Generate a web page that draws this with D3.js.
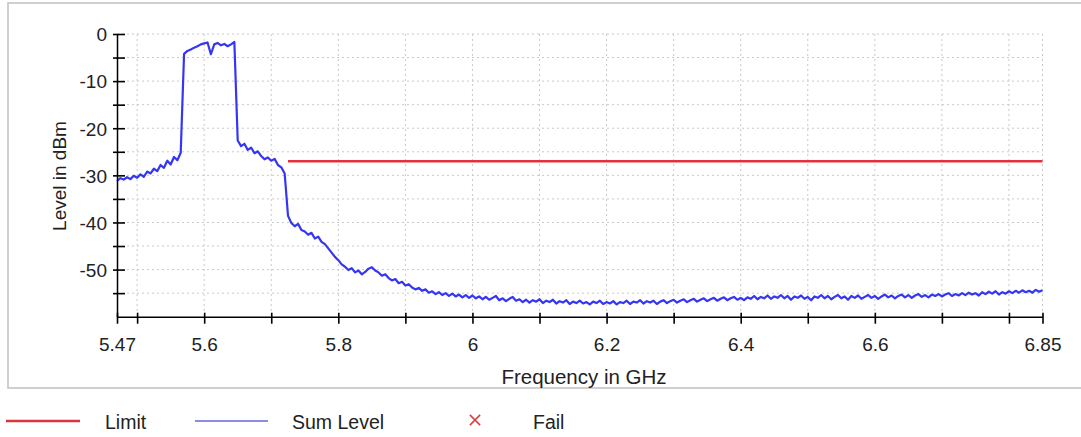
<!DOCTYPE html>
<html>
<head>
<meta charset="utf-8">
<script src="https://cdn.jsdelivr.net/npm/d3@7/dist/d3.min.js"></script>
<style>
  html, body { margin: 0; padding: 0; background: #fff; }
  svg { display: block; font-family: "Liberation Sans", Arial, sans-serif; }
</style>
</head>
<body>
<svg id="chart" width="1081" height="437"></svg>
<script>
// ---------- data ----------
const sweepStart = 5.47;     // GHz
const sweepStep = 0.005;     // GHz per trace point
// Sum Level trace in dBm (one value per sweep point)
const sumLevel = [
  // 5.470 - 5.565
  -31.2, -30.6, -30.9, -30.4, -30.8, -30.1, -30.5, -29.8, -30.3, -29.2,
  -29.6, -28.6, -29.1, -27.8, -28.4, -26.9, -27.7, -26.1, -26.8, -25.2,
  // 5.570 - 5.645 (channel)
  -4.2, -3.6, -3.3, -2.9, -2.6, -2.2, -2.0, -1.8, -4.3, -2.2,
  -1.9, -2.4, -2.1, -2.6, -2.2, -1.7,
  // 5.650 - 5.720
  -22.6, -23.8, -23.3, -24.6, -24.1, -25.3, -24.9, -25.9, -26.6, -26.2,
  -26.9, -26.5, -27.8, -28.3, -29.6,
  // 5.725 - 6.850
  -38.6, -40.1, -40.8, -40.3, -41.6, -41.9, -42.6, -42.2, -43.4, -43.0,
  -44.1, -44.6, -45.5, -46.4, -47.3, -48.0, -48.9, -49.4, -50.1, -49.7,
  -50.6, -50.2, -51.0, -50.5, -49.8, -49.5, -50.2, -50.6, -51.3, -51.0,
  -51.8, -52.3, -52.0, -52.9, -52.6, -53.4, -53.1, -53.8, -54.2, -53.9,
  -54.5, -54.2, -54.9, -54.6, -55.2, -54.8, -55.4, -55.0, -55.6, -55.1,
  -55.7, -55.3, -55.9, -55.4, -56.0, -55.5, -56.1, -55.7, -56.3, -55.8,
  -56.4, -56.0, -55.6, -56.5, -56.1, -56.7, -56.2, -55.8, -56.6, -56.3,
  -56.9, -56.4, -57.0, -56.5, -56.8, -56.3, -57.1, -56.6, -56.9, -56.4,
  -57.2, -56.7, -57.0, -56.5, -57.3, -56.8, -57.1, -56.6, -57.2, -56.9,
  -57.4, -56.8, -57.1, -56.6, -57.3, -56.9, -57.2, -56.7, -57.4, -56.9,
  -57.1, -56.6, -57.3, -56.8, -57.0, -56.5, -57.2, -56.7, -57.0, -56.6,
  -57.3, -56.8, -56.5, -57.1, -56.7, -56.4, -57.0, -56.6, -56.3, -56.9,
  -56.5, -56.2, -56.8, -56.4, -56.1, -56.7, -56.3, -56.0, -56.6, -56.2,
  -55.9, -56.5, -56.1, -55.8, -56.4, -56.0, -56.5, -55.9, -56.2, -55.6,
  -56.3, -55.8, -56.1, -55.5, -56.2, -55.7, -56.0, -55.4, -56.1, -55.6,
  -56.4, -55.7, -56.0, -55.5, -56.2, -55.8, -56.5, -55.7, -56.0, -55.4,
  -56.1, -55.6, -56.3, -55.8, -55.4, -56.1, -55.7, -56.4, -55.6, -56.0,
  -55.5, -56.2, -55.8, -55.4, -56.0, -55.6, -56.2, -55.7, -55.3, -55.9,
  -55.5, -56.1, -55.6, -55.3, -55.9, -55.4, -56.0, -55.5, -55.2, -55.8,
  -55.4, -55.9, -55.3, -55.6, -55.2, -55.7, -55.3, -55.0, -55.6, -55.2,
  -55.5, -55.0, -55.4, -54.9, -55.3, -55.0, -55.5, -54.8, -55.2, -54.7,
  -55.1, -54.6, -55.3, -54.8, -55.1, -54.6, -55.0, -54.5, -54.9, -54.4,
  -54.8, -54.5, -54.9, -54.3, -54.7, -54.4
];
const limitFreq = [5.725, 6.85];   // GHz
const limitLevel = [-27, -27];     // dBm

const xDomain = [5.47, 6.85];
const yDomain = [-60, 0];
const xTicks = [5.47, 5.5, 5.6, 5.7, 5.8, 5.9, 6.0, 6.1, 6.2, 6.3, 6.4, 6.5, 6.6, 6.7, 6.8, 6.85];
const xTickLabels = [5.47, 5.6, 5.8, 6.0, 6.2, 6.4, 6.6, 6.85];
const yTicks = [-60, -55, -50, -45, -40, -35, -30, -25, -20, -15, -10, -5, 0];
const yTickLabels = [-50, -40, -30, -20, -10, 0];
const legendItems = ["Limit", "Sum Level", "Fail"];

// ---------- layout ----------
(function () {
const svg = d3.select("#chart");
const mL = 117, mR = 1042.5, mT = 34, mB = 316.7;
const x = d3.scaleLinear().domain(xDomain).range([mL, mR]);
const y = d3.scaleLinear().domain(yDomain).range([mB, mT]);

// frame
svg.append("rect").attr("x", 8).attr("y", 3).attr("width", 1090).attr("height", 385)
  .attr("fill", "none").attr("stroke", "#c4c4c4").attr("stroke-width", 1.6);

// grid
const grid = svg.append("g").attr("stroke", "#c9c9c9").attr("stroke-width", 1)
  .attr("stroke-dasharray", "2,3");
grid.selectAll("line.h").data(yTicks.filter(v => v > yDomain[0])).enter().append("line")
  .attr("x1", mL).attr("x2", mR).attr("y1", d => y(d)).attr("y2", d => y(d));
grid.selectAll("line.v").data(xTicks.filter(v => v > xDomain[0])).enter().append("line")
  .attr("y1", mT).attr("y2", mB).attr("x1", d => x(d)).attr("x2", d => x(d));

// trace
const trace = sumLevel.map((v, i) => ({ f: sweepStart + i * sweepStep, v }));
svg.append("path").datum(trace)
  .attr("fill", "none").attr("stroke", "#3535f5").attr("stroke-width", 2.2)
  .attr("stroke-linejoin", "round")
  .attr("d", d3.line().x(d => x(d.f)).y(d => y(d.v)));

// limit
svg.append("path").datum(limitFreq.map((f, i) => ({ f, v: limitLevel[i] })))
  .attr("fill", "none").attr("stroke", "#e2323c").attr("stroke-width", 2.6)
  .attr("d", d3.line().x(d => x(d.f)).y(d => y(d.v)));

// axes
const fmtX = d => xTickLabels.some(t => Math.abs(t - d) < 1e-9) ? String(+d.toFixed(2)) : "";
const fmtY = d => yTickLabels.includes(d) ? String(d) : "";

const xAxis = svg.append("g").attr("transform", `translate(0,${mB})`)
  .call(d3.axisBottom(x).tickValues(xTicks).tickFormat(fmtX).tickSizeInner(7).tickSizeOuter(0));
xAxis.selectAll(".tick line").attr("y1", -4).attr("stroke-width", 1.6);
xAxis.selectAll(".tick text").attr("y", 21);
const yAxis = svg.append("g").attr("transform", `translate(${mL},0)`)
  .call(d3.axisLeft(y).tickValues(yTicks.filter(v => v > yDomain[0])).tickFormat(fmtY).tickSizeInner(4).tickSizeOuter(0));
yAxis.selectAll(".tick line").attr("x1", -4).attr("x2", 8).attr("stroke-width", 1.6);
[xAxis, yAxis].forEach(a => {
  a.select(".domain").attr("stroke", "#000").attr("stroke-width", 1.5);
  a.selectAll("text").attr("font-size", 19).attr("fill", "#222")
    .attr("font-family", "Liberation Sans, Arial, sans-serif");
});
yAxis.selectAll(".tick text").attr("x", -10).attr("dy", "0.36em");

// axis titles
svg.append("text").attr("x", 584).attr("y", 384)
  .attr("text-anchor", "middle").attr("font-size", 20.5).attr("fill", "#222")
  .text("Frequency in GHz");
svg.append("text").attr("transform", "translate(66,176) rotate(-90)")
  .attr("text-anchor", "middle").attr("font-size", 19).attr("fill", "#222")
  .text("Level in dBm");

// legend
const lg = svg.append("g").attr("font-size", 19.5).attr("fill", "#222");
lg.append("line").attr("x1", 6).attr("x2", 80).attr("y1", 421).attr("y2", 421)
  .attr("stroke", "#d9343e").attr("stroke-width", 2.5);
lg.append("text").attr("x", 105).attr("y", 428.5).text(legendItems[0]);
lg.append("line").attr("x1", 195).attr("x2", 268).attr("y1", 421).attr("y2", 421)
  .attr("stroke", "#8c8ce8").attr("stroke-width", 2);
lg.append("text").attr("x", 292).attr("y", 428.5).text(legendItems[1]);
lg.append("path").attr("transform", "translate(475,420)")
  .attr("d", d3.symbol(d3.symbolX, 70)())
  .attr("fill", "none").attr("stroke", "#e03c3c").attr("stroke-width", 1.5);
lg.append("text").attr("x", 533).attr("y", 428.5).text(legendItems[2]);
})();
</script>
</body>
</html>
